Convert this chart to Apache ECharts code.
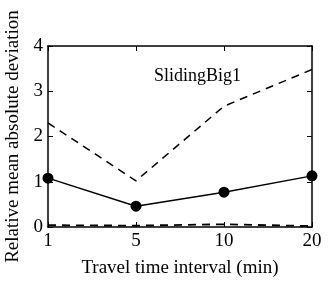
<!DOCTYPE html>
<html><head><meta charset="utf-8">
<script src="https://cdn.jsdelivr.net/npm/echarts@6/dist/echarts.min.js"></script>
<style>html,body{margin:0;padding:0;background:#fff}#c{width:333px;height:283px}</style>
</head><body><div id="c"></div>
<script>
const categories = ['1', '5', '10', '20'];
const solidValues = [1.08, 0.46, 0.77, 1.13];
const upperDashed = [2.3, 1.02, 2.67, 3.48];
const lowerDashed = [0.04, 0.03, 0.06, 0.02];
const yTicks = [0, 1, 2, 3, 4];

const F = 'Liberation Serif';
const chart = echarts.init(document.getElementById('c'));
const axisLine = {show: true, onZero: false, lineStyle: {color: '#000', width: 1.5}};
const tick = {show: true, inside: true, length: 5, lineStyle: {color: '#000', width: 1}};
chart.setOption({
  animation: false,
  grid: {left: 48, right: 21, top: 46, bottom: 56, containLabel: false, outerBoundsMode: 'none'},
  graphic: [{type: 'text', left: 154, top: 67, style: {text: 'SlidingBig1', font: '18px "Liberation Serif"', fill: '#000'}}],
  xAxis: [{
    type: 'category', data: categories, boundaryGap: false,
    axisLine, axisTick: tick, splitLine: {show: false},
    axisLabel: {color: '#000', fontFamily: F, fontSize: 19, margin: 5, interval: 0},
    name: 'Travel time interval (min)', nameLocation: 'middle', nameGap: 32,
    nameTextStyle: {color: '#000', fontFamily: F, fontSize: 19}
  }, {
    type: 'category', data: categories, boundaryGap: false, position: 'top',
    axisLine, axisTick: tick, axisLabel: {show: false}, splitLine: {show: false}
  }],
  yAxis: [{
    type: 'value', min: yTicks[0], max: yTicks[yTicks.length - 1], interval: 1,
    axisLine, axisTick: tick, splitLine: {show: false},
    axisLabel: {color: '#000', fontFamily: F, fontSize: 19, margin: 5},
    name: 'Relative mean absolute deviation', nameLocation: 'middle', nameGap: 19,
    nameTextStyle: {color: '#000', fontFamily: F, fontSize: 19}
  }, {
    type: 'value', min: yTicks[0], max: yTicks[yTicks.length - 1], interval: 1, position: 'right',
    axisLine, axisTick: tick, axisLabel: {show: false}, splitLine: {show: false}
  }],
  series: [
    {type: 'line', data: upperDashed, symbol: 'none', lineStyle: {color: '#000', width: 1.5, type: [8, 6]}},
    {type: 'line', data: lowerDashed, symbol: 'none', lineStyle: {color: '#000', width: 1.8, type: [8, 6]}},
    {type: 'line', data: solidValues, symbol: 'circle', symbolSize: 11, itemStyle: {color: '#000'}, lineStyle: {color: '#000', width: 1.5}}
  ]
});
</script></body></html>
